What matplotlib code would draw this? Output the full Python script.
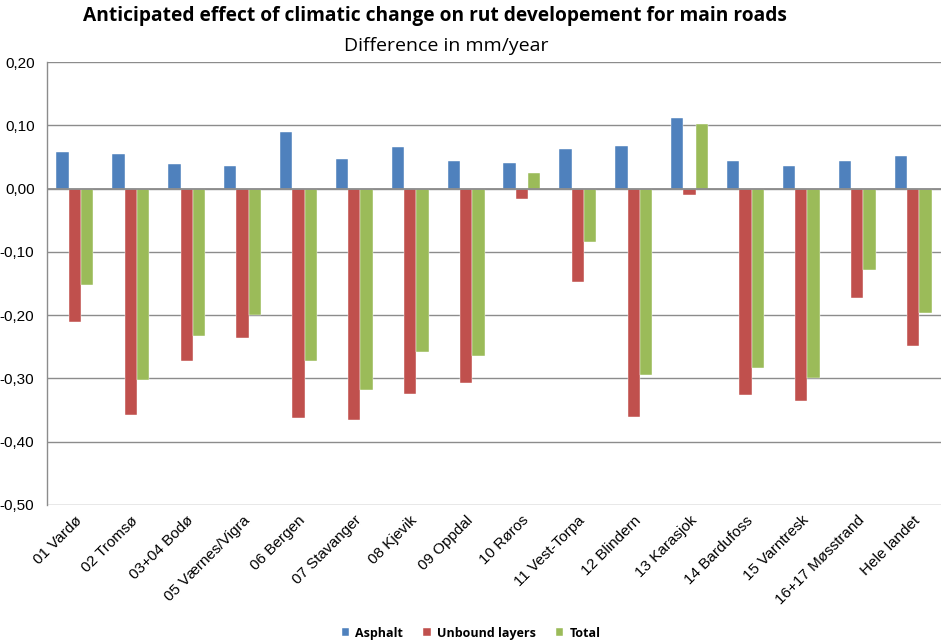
import matplotlib
matplotlib.use("Agg")
import matplotlib.pyplot as plt
import numpy as np
from matplotlib.ticker import FuncFormatter

stations = ["01 Vardø", "02 Tromsø", "03+04 Bodø", "05 Værnes/Vigra", "06 Bergen",
            "07 Stavanger", "08 Kjevik", "09 Oppdal", "10 Røros", "11 Vest-Torpa",
            "12 Blindern", "13 Karasjok", "14 Bardufoss", "15 Varntresk",
            "16+17 Møsstrand", "Hele landet"]
asphalt = [0.058, 0.054, 0.039, 0.036, 0.090, 0.046, 0.065, 0.043,
           0.041, 0.063, 0.067, 0.112, 0.043, 0.036, 0.044, 0.051]
unbound = [-0.211, -0.357, -0.272, -0.236, -0.362, -0.365, -0.325, -0.307,
           -0.016, -0.147, -0.361, -0.010, -0.326, -0.336, -0.173, -0.248]
total = [-0.153, -0.303, -0.233, -0.200, -0.272, -0.318, -0.259, -0.265,
         0.024, -0.084, -0.294, 0.102, -0.283, -0.300, -0.128, -0.197]

series = [("Asphalt", asphalt, "#4F81BD"),
          ("Unbound layers", unbound, "#C0504D"),
          ("Total", total, "#9BBB59")]

fig = plt.figure(figsize=(9.42, 6.41), dpi=100)
ax = fig.add_axes([47 / 942, 1 - 505 / 641, (941 - 47) / 942, (505 - 62) / 641])

x = np.arange(len(stations))
w = 0.22
for i, (name, vals, col) in enumerate(series):
    ax.bar(x + (i - 1) * w, vals, w, color=col, label=name, zorder=3,
           edgecolor="white", linewidth=0.3)

ax.set_xlim(-0.5, len(stations) - 0.5)
ax.set_ylim(-0.5, 0.2)
ax.set_yticks(np.arange(-0.5, 0.21, 0.1))
ax.yaxis.set_major_formatter(FuncFormatter(lambda v, p: f"{v:.2f}".replace(".", ",").replace("-0,00", "0,00")))
ax.grid(axis="y", color="#8C8C8C", linewidth=1.0, zorder=0)
ax.axhline(0, color="#8C8C8C", linewidth=1.3, zorder=4)

for s in ["top", "right", "bottom"]:
    ax.spines[s].set_visible(False)
ax.spines["left"].set_color("#8C8C8C")
ax.spines["left"].set_linewidth(1.0)

ax.set_xticks(x)
ax.set_xticklabels(stations, rotation=45, ha="right", rotation_mode="anchor",
                   fontsize=11, family="Liberation Sans")
ax.tick_params(axis="x", length=0, pad=6)
ax.tick_params(axis="y", length=0, pad=9, labelsize=11)
for lab in ax.get_yticklabels():
    lab.set_family("Liberation Sans")

fig.text(0.462, 0.975, "Anticipated effect of climatic change on rut developement for main roads",
         ha="center", va="center", fontsize=13.8, fontweight="bold", family="Open Sans")
fig.text(0.474, 0.929, "Difference in mm/year", ha="center", va="center",
         fontsize=14, family="Open Sans")

leg = fig.legend(loc="center", bbox_to_anchor=(0.5, 0.012), ncol=3, frameon=False,
                 handlelength=0.6, handleheight=0.6, handletextpad=0.5, columnspacing=1.6,
                 prop={"family": "Open Sans", "weight": "bold", "size": 9})

fig.savefig("out.png", dpi=100)
